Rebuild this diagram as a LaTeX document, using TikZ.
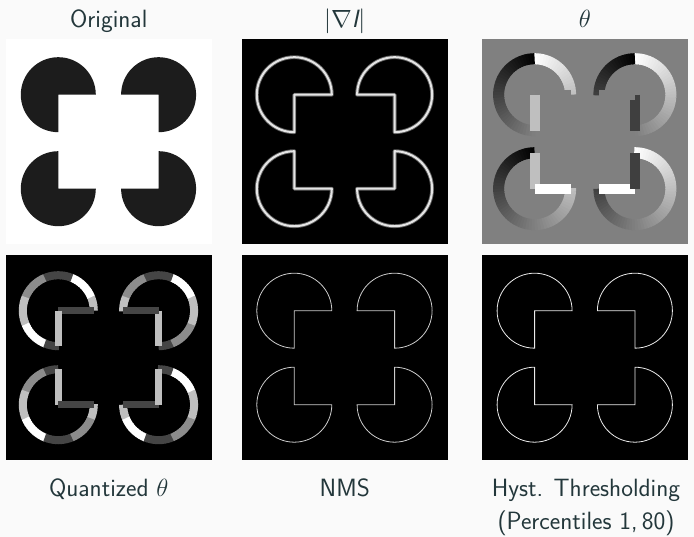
\documentclass[tikz,border=0pt]{standalone}
\usepackage{tikz}
\definecolor{slidebg}{HTML}{FAFAFA}
\definecolor{slidetext}{HTML}{23373B}
\definecolor{blob}{HTML}{1C1C1C}
\definecolor{midgray}{gray}{0.5}

% centre x / centre y / start angle of the four pacmen (panel units)
\newcommand{\pacmen}{52.5/150/0, 152.8/150/-90, 52.5/56/90, 152.8/56/180}

\begin{document}
\begin{tikzpicture}[
        x=1pt,
        y=1pt,
        panel/.style={
            rectangle,
            minimum size=205.5pt,
            inner sep=0pt,
            fill=black
        },
        lbl/.style={
            font=\fontsize{25}{33}\selectfont\sffamily,
            text=slidetext,
            align=center,
            anchor=base,
            inner sep=0pt
        },
        halo/.style={
            draw=white!38!black,
            line width=3.8pt,
            line join=round
        },
        rim/.style={
            draw=white!90!black,
            line width=2pt,
            line join=round
        },
        thinrim/.style={
            draw=white!80!black,
            line width=0.8pt
        },
        band/.style={
            line width=#1
        }
    ]

    % Background
    \path[fill=slidebg, use as bounding box] (0,0) rectangle (694,537);

    % Panels
    \node[panel, fill=white] (orig) at (108.75,395.25) {};
    \node[panel] (grad) at (344.75,395.25) {};
    \node[panel, fill=midgray] (theta) at (585.05,395.25) {};
    \node[panel] (quant) at (108.75,179.25) {};
    \node[panel] (nms) at (344.75,179.25) {};
    \node[panel] (hyst) at (585.05,179.25) {};

    % Original
    \begin{scope}[shift={(orig.south west)}]
        \foreach \cx/\cy/\st in \pacmen
            \fill[blob] (\cx,\cy) -- ++(\st:37.5) arc[start angle=\st, delta angle=270, radius=37.5] -- cycle;
    \end{scope}

    % Gradient magnitude
    \begin{scope}[shift={(grad.south west)}]
        \foreach \cx/\cy/\st in \pacmen {
            \draw[halo] (\cx,\cy) -- ++(\st:37.5) arc[start angle=\st, delta angle=270, radius=37.5] -- cycle;
            \draw[rim] (\cx,\cy) -- ++(\st:37.5) arc[start angle=\st, delta angle=270, radius=37.5] -- cycle;
        }
    \end{scope}

    % Gradient direction
    \begin{scope}[shift={(theta.south west)}]
        \foreach \cx/\cy/\st in \pacmen {
            \foreach \k in {0,...,59} {
                \pgfmathsetmacro\ang{\st+4.5*\k}
                \pgfmathsetmacro\gv{mod(\ang+2.25+990,360)/3.6}
                \draw[band=11pt, white!\gv!black] (\cx,\cy) ++(\ang:36) arc[start angle=\ang, delta angle=5.6, radius=36];
            }
            \pgfmathsetmacro\gv{mod(\st+900-0.5,360)/3.6}
            \draw[band=10pt, white!\gv!black] (\cx,\cy) -- ++(\st:36);
            \pgfmathsetmacro\gv{mod(\st+990-0.5,360)/3.6}
            \draw[band=10pt, white!\gv!black] (\cx,\cy) -- ++(\st-90:36);
        }
    \end{scope}

    % Quantized direction
    \begin{scope}[shift={(quant.south west)}]
        \foreach \cx/\cy/\st in \pacmen {
            \foreach \k in {0,...,59} {
                \pgfmathsetmacro\ang{\st+4.5*\k}
                \pgfmathsetmacro\gv{{75,100,27,55}[int(mod(round((\ang+722.25)/45),4))]}
                \draw[band=8pt, white!\gv!black] (\cx,\cy) ++(\ang:35.5) arc[start angle=\ang, delta angle=5.6, radius=35.5];
            }
            \pgfmathsetmacro\gv{{75,100,27,55}[int(mod(round((\st+630)/45),4))]}
            \draw[band=7.5pt, white!\gv!black] (\cx,\cy) -- ++(\st:35.5);
            \pgfmathsetmacro\gv{{75,100,27,55}[int(mod(round((\st+720)/45),4))]}
            \draw[band=7.5pt, white!\gv!black] (\cx,\cy) -- ++(\st-90:35.5);
        }
    \end{scope}

    % NMS
    \begin{scope}[shift={(nms.south west)}]
        \foreach \cx/\cy/\st in \pacmen
            \draw[thinrim] (\cx,\cy) -- ++(\st:37.5) arc[start angle=\st, delta angle=270, radius=37.5] -- cycle;
    \end{scope}

    % Hysteresis
    \begin{scope}[shift={(hyst.south west)}]
        \foreach \cx/\cy/\st in \pacmen
            \draw[thinrim, draw=white!92!black] (\cx,\cy) -- ++(\st:37.5) arc[start angle=\st, delta angle=270, radius=37.5] -- cycle;
    \end{scope}

    % Titles
    \node[lbl] (origtitle) at (108.75,509) {Original};
    \node[lbl] (gradtitle) at (344.75,509) {$|\nabla \textsf{\itshape I}|$};
    \node[lbl] (thetatitle) at (585,509) {$\theta$};

    % Captions
    \node[lbl] (quantcap) at (108.75,40) {Quantized $\theta$};
    \node[lbl] (nmscap) at (344.75,40) {NMS};
    \node[lbl] (hystcap) at (586,7) {Hyst. Thresholding\\(Percentiles 1,\,80)};

\end{tikzpicture}
\end{document}
